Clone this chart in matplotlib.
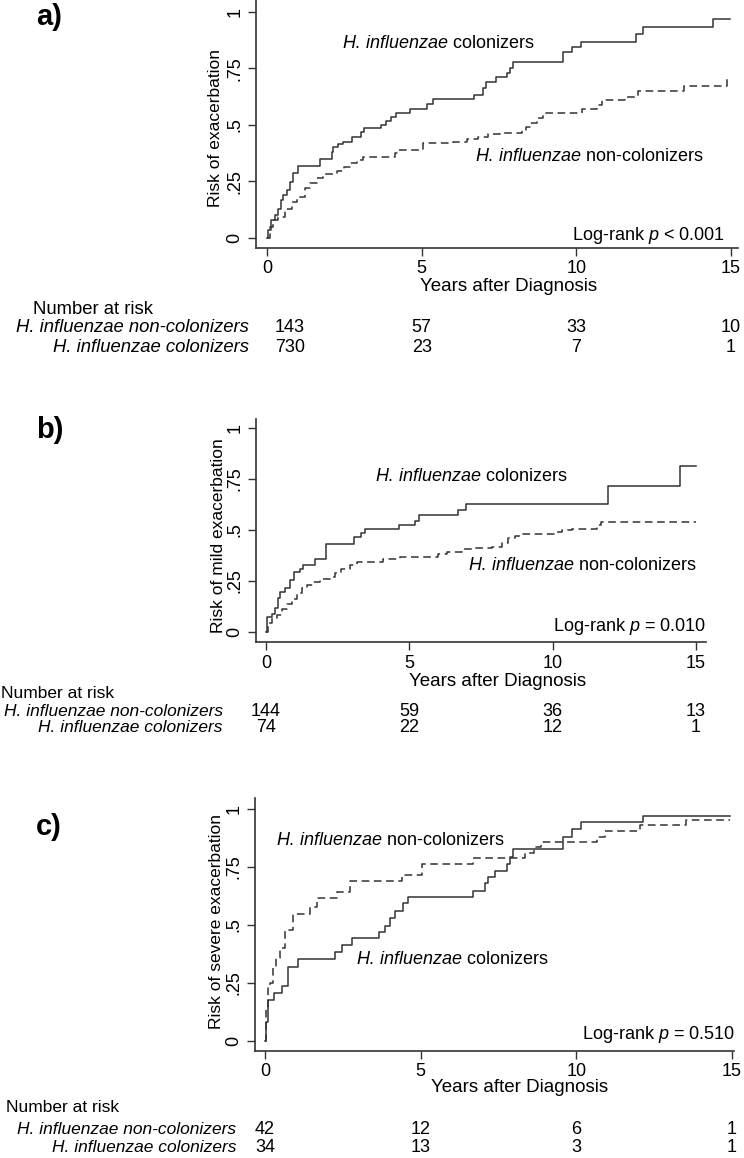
import matplotlib
matplotlib.use("Agg")
import matplotlib.pyplot as plt
from matplotlib import transforms

plt.rcParams['font.family'] = ['Liberation Sans', 'DejaVu Sans']
plt.rcParams['mathtext.fontset'] = 'custom'
plt.rcParams['mathtext.rm'] = 'Liberation Sans'
plt.rcParams['mathtext.it'] = 'Liberation Sans:italic'

# ---- panel a: any exacerbation ----
a_col_t = [0, 0.04, 0.13, 0.26, 0.37, 0.45, 0.53, 0.64, 0.74, 0.85, 0.99, 1.71, 2.11, 2.15, 2.28,
           2.47, 2.74, 3.04, 3.15, 3.69, 3.85, 4.01, 4.17, 4.62, 5.16, 5.36, 6.70, 7.00, 7.08, 7.39,
           7.75, 7.86, 7.96, 9.58, 9.85, 10.14, 11.93, 12.15, 14.43, 14.97]
a_col_r = [0, 0.035, 0.08, 0.10, 0.13, 0.168, 0.19, 0.212, 0.249, 0.286, 0.318, 0.348, 0.381, 0.403, 0.415,
           0.426, 0.448, 0.47, 0.485, 0.499, 0.518, 0.536, 0.554, 0.57, 0.592, 0.613, 0.632, 0.662, 0.69, 0.713,
           0.73, 0.75, 0.777, 0.82, 0.843, 0.868, 0.90, 0.934, 0.968, 0.968]
a_non_t = [0, 0.1, 0.2, 0.37, 0.58, 0.8, 0.96, 1.23, 1.39, 1.61, 1.82, 2.25, 2.5, 2.68, 2.9,
           3.11, 4.14, 4.25, 5.05, 6.02, 6.46, 6.81, 7.16, 7.53, 8.23, 8.39, 8.5, 8.72, 8.93, 10.17,
           10.66, 10.82, 11.57, 12.0, 13.49, 14.86, 15.0]
a_non_r = [0, 0.05, 0.08, 0.094, 0.13, 0.16, 0.183, 0.22, 0.242, 0.264, 0.283, 0.297, 0.312, 0.33, 0.345,
           0.359, 0.374, 0.389, 0.418, 0.426, 0.436, 0.448, 0.458, 0.465, 0.478, 0.492, 0.51, 0.529, 0.554, 0.569,
           0.588, 0.61, 0.624, 0.651, 0.672, 0.703, 0.703]

# ---- panel b: mild exacerbation ----
b_col_t = [0, 0.05, 0.2, 0.31, 0.43, 0.49, 0.66, 0.84, 0.99, 1.19, 1.3, 1.71, 2.08, 3.07, 3.31,
           3.45, 4.64, 5.2, 5.35, 6.71, 6.98, 11.94, 14.46, 15.0]
b_col_r = [0, 0.075, 0.086, 0.12, 0.165, 0.198, 0.214, 0.255, 0.296, 0.309, 0.33, 0.36, 0.43, 0.467, 0.484,
           0.503, 0.525, 0.544, 0.574, 0.598, 0.626, 0.717, 0.813, 0.813]
b_non_t = [0, 0.08, 0.2, 0.37, 0.55, 0.72, 0.9, 1.07, 1.24, 1.42, 1.65, 1.88, 2.27, 2.41, 2.62,
           2.93, 3.16, 4.09, 4.67, 6.01, 6.3, 6.82, 7.29, 7.9, 8.22, 8.45, 8.69, 8.86, 10.14, 10.31,
           10.66, 11.53, 11.68, 15.0]
b_non_r = [0, 0.042, 0.067, 0.083, 0.113, 0.136, 0.162, 0.19, 0.214, 0.23, 0.246, 0.26, 0.271, 0.288, 0.307,
           0.328, 0.345, 0.358, 0.369, 0.38, 0.39, 0.407, 0.413, 0.418, 0.435, 0.46, 0.472, 0.479, 0.489, 0.498,
           0.505, 0.525, 0.538, 0.538]

# ---- panel c: severe exacerbation ----
c_col_t = [0, 0.02, 0.09, 0.3, 0.54, 0.75, 1.07, 2.25, 2.49, 2.79, 3.66, 3.85, 4.02, 4.18, 4.44,
           4.58, 6.69, 7.07, 7.17, 7.39, 7.77, 7.87, 7.97, 9.58, 9.85, 10.15, 12.15, 14.95]
c_col_r = [0, 0.083, 0.177, 0.205, 0.238, 0.32, 0.353, 0.385, 0.414, 0.443, 0.471, 0.497, 0.532, 0.56, 0.594,
           0.62, 0.647, 0.68, 0.708, 0.733, 0.762, 0.794, 0.826, 0.88, 0.912, 0.942, 0.971, 0.971]
c_non_t = [0, 0.03, 0.09, 0.16, 0.27, 0.37, 0.48, 0.64, 0.91, 1.45, 1.66, 2.31, 2.73, 4.39, 5.03,
           6.69, 8.34, 8.66, 8.87, 10.67, 10.92, 12.05, 13.52, 14.95]
c_non_r = [0, 0.143, 0.236, 0.25, 0.314, 0.357, 0.4, 0.479, 0.547, 0.579, 0.618, 0.641, 0.69, 0.716, 0.762,
           0.787, 0.81, 0.835, 0.858, 0.88, 0.905, 0.931, 0.952, 0.952]

# number at risk
risk_years = [0, 5, 10, 15]
a_risk_non = [143, 57, 33, 10]
a_risk_col = [730, 23, 7, 1]
b_risk_non = [144, 59, 36, 13]
b_risk_col = [74, 22, 12, 1]
c_risk_non = [42, 12, 6, 1]
c_risk_col = [34, 13, 3, 1]

ylabels = ["Risk of exacerbation", "Risk of mild exacerbation", "Risk of severe exacerbation"]
pvalues = ["Log-rank $p$ < 0.001", "Log-rank $p$ = 0.010", "Log-rank $p$ = 0.510"]
panel_tags = ["a)", "b)", "c)"]

W, H = 744, 1158
fig = plt.figure(figsize=(W / 100, H / 100), dpi=100)

# layout (pixels): axes left/right/top/bottom, data limits
boxes = [(256, 738, 0, 248), (256, 706, 419, 642), (255, 734, 798, 1051)]
xlims = [(-0.356, 15.23), (-0.35, 15.35), (-0.32, 15.07)]
ylims = [(-0.044, 1.052), (-0.049, 1.044), (-0.043, 1.047)]
xlab_pos = [(0.523, -0.157), (0.536, -0.176), (0.553, -0.146)]
ylab_pos = [(-0.083, 0.484), (-0.084, 0.475), (-0.081, 0.51)]
col_txt = [(2.43, 0.86), (3.8, 0.76), (2.92, 0.353)]
non_txt = [(6.72, 0.362), (7.03, 0.328), (0.35, 0.866)]
p_txt = [(14.8, 0.013), (15.35, 0.026), (15.1, 0.026)]
tag_y = [17, 430, 827]
# risk table rows (pixel y) and label right edge / header left edge
table_y = [(310, 328, 347), (693, 712, 728), (1108, 1130, 1148)]
label_right = [249, 223, 236]
header_left = [33, 1, 6]
table_size = [13.3, 12.5, 12.5]
first_shift = [23, 0, 0]

curves = [(a_col_t, a_col_r, a_non_t, a_non_r),
          (b_col_t, b_col_r, b_non_t, b_non_r),
          (c_col_t, c_col_r, c_non_t, c_non_r)]
risks = [(a_risk_non, a_risk_col), (b_risk_non, b_risk_col), (c_risk_non, c_risk_col)]

col_label = r"$\mathit{H.\,influenzae}$ colonizers"
non_label = r"$\mathit{H.\,influenzae}$ non-colonizers"
line_col = "#333333"

for i in range(3):
    l, r, t, b = boxes[i]
    ax = fig.add_axes([l / W, 1 - b / H, (r - l) / W, (b - t) / H])
    ct, cr, nt, nr = curves[i]
    ax.step(ct, cr, where='post', color=line_col, lw=1.1)
    ax.step(nt, nr, where='post', color=line_col, lw=1.1, linestyle=(0, (5, 3)))
    ax.set_xlim(*xlims[i])
    ax.set_ylim(*ylims[i])
    ax.set_xticks(risk_years)
    ax.set_yticks([0, 0.25, 0.5, 0.75, 1])
    ax.set_yticklabels(["0", ".25", ".5", ".75", "1"], rotation=90, va='center')
    ax.tick_params(direction='out', length=6, width=1, color=line_col, labelsize=13, pad=3)
    for s in ['top', 'right']:
        ax.spines[s].set_visible(False)
    for s in ['left', 'bottom']:
        ax.spines[s].set_color(line_col)
        ax.spines[s].set_linewidth(1.2)
    ax.set_xlabel("Years after Diagnosis", fontsize=13.5)
    ax.xaxis.set_label_coords(*xlab_pos[i])
    ax.xaxis.label.set_va('center')
    ax.set_ylabel(ylabels[i], fontsize=12.5)
    ax.yaxis.set_label_coords(*ylab_pos[i])
    ax.yaxis.label.set_va('center')

    ax.text(*col_txt[i], col_label, fontsize=13, va='center', ha='left')
    ax.text(*non_txt[i], non_label, fontsize=13, va='center', ha='left')
    ax.text(*p_txt[i], pvalues[i], fontsize=13, va='center', ha='right')

    fig.text(36 / W, 1 - tag_y[i] / H, panel_tags[i], fontsize=21, fontweight='bold', va='center', ha='left')

    # number at risk table
    hy, y1, y2 = table_y[i]
    fs = table_size[i]
    fig.text(header_left[i] / W, 1 - hy / H, "Number at risk", fontsize=fs, va='center', ha='left')
    fig.text(label_right[i] / W, 1 - y1 / H, "H. influenzae non-colonizers", fontsize=fs,
             style='italic', va='center', ha='right')
    fig.text(label_right[i] / W, 1 - y2 / H, "H. influenzae colonizers", fontsize=fs,
             style='italic', va='center', ha='right')
    blend = transforms.blended_transform_factory(ax.transData, fig.transFigure)
    rn, rc = risks[i]
    for j, yr in enumerate(risk_years):
        tr = transforms.offset_copy(blend, fig=fig, x=first_shift[i] if j == 0 else 0, y=0, units='dots')
        ax.text(yr, 1 - y1 / H, str(rn[j]), transform=tr, fontsize=13, va='center', ha='center', clip_on=False)
        ax.text(yr, 1 - y2 / H, str(rc[j]), transform=tr, fontsize=13, va='center', ha='center', clip_on=False)

fig.savefig("out.png", dpi=100)
